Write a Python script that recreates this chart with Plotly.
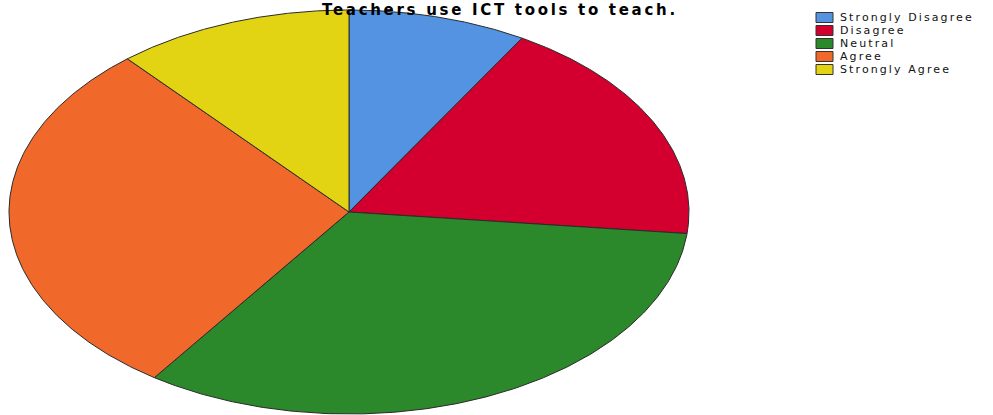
import numpy as np
import plotly.graph_objects as go

categories = ["Strongly Disagree", "Disagree", "Neutral", "Agree", "Strongly Agree"]
values = [8.5, 18.2, 33.0, 29.0, 11.3]
colors = ["#5393E2", "#D3002F", "#2B882B", "#F0692B", "#E2D413"]
title_text = "Teachers use ICT tools to teach."

W, H = 993, 415
cx, cy, rx, ry = 349, 212, 340, 202

fig = go.Figure()
total = sum(values)
start = 0.0
for cat, v, col in zip(categories, values, colors):
    a0 = start
    a1 = start + 2 * np.pi * v / total
    t = np.linspace(a0, a1, 200)
    xs = np.concatenate([[cx], cx + rx * np.sin(t), [cx]])
    ys = np.concatenate([[cy], cy - ry * np.cos(t), [cy]])
    fig.add_trace(go.Scatter(
        x=xs, y=ys, mode="lines", fill="toself", fillcolor=col,
        line=dict(color="#2a2a2a", width=1), name=cat, hoverinfo="skip",
        showlegend=False,
    ))
    start = a1

# title
fig.add_annotation(
    x=500 / W, y=1, xref="paper", yref="paper",
    text='<b><span style="letter-spacing:2.7px">' + title_text + '</span></b>',
    showarrow=False, font=dict(family="DejaVu Sans", size=15, color="#000"),
    yanchor="top", xanchor="center", borderpad=0,
)

# legend (built from the category and colour lists)
lx, ly0, step = 816, 17.5, 13
for i, (cat, col) in enumerate(zip(categories, colors)):
    yc = ly0 + i * step
    fig.add_shape(type="rect", xref="x", yref="y",
                  x0=lx, x1=lx + 17, y0=yc - 5, y1=yc + 5,
                  fillcolor=col, line=dict(color="#333", width=1))
    fig.add_annotation(
        x=lx + 23, y=yc, xref="x", yref="y", xanchor="left", yanchor="middle",
        text='<span style="letter-spacing:2.1px">' + cat + '</span>',
        showarrow=False, borderpad=0,
        font=dict(family="DejaVu Sans", size=11, color="#111"),
    )

fig.update_layout(
    width=W, height=H, margin=dict(l=0, r=0, t=0, b=0, autoexpand=False),
    plot_bgcolor="white", paper_bgcolor="white",
    xaxis=dict(range=[0, W], visible=False, fixedrange=True),
    yaxis=dict(range=[H, 0], visible=False, fixedrange=True),
    showlegend=False,
)
fig.write_html("out.html", config={"displayModeBar": False},
               post_script="document.body.style.margin='0';")
